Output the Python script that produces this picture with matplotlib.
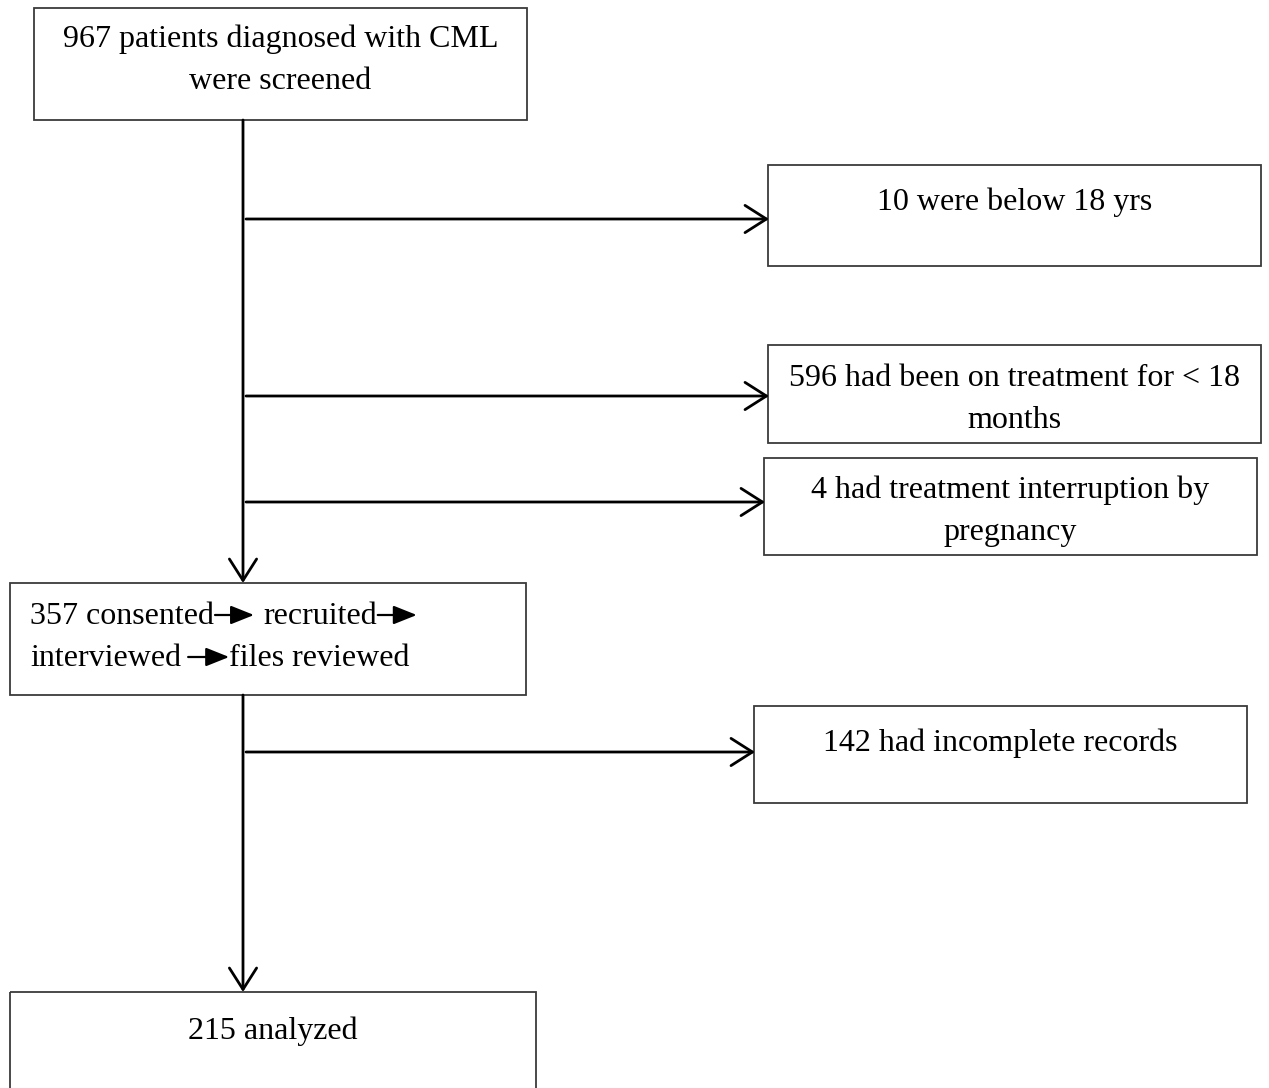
import matplotlib
matplotlib.use("Agg")
import matplotlib.pyplot as plt
from matplotlib.patches import Rectangle

# ---- content ----
main_labels = [
    "967 patients diagnosed with CML\nwere screened",
    None,  # composite box (consented -> recruited -> interviewed -> files reviewed)
    "215 analyzed",
]
step_words = ["357 consented", "recruited", "interviewed", "files reviewed"]
exclusion_labels = [
    "10 were below 18 yrs",
    "596 had been on treatment for < 18\nmonths",
    "4 had treatment interruption by\npregnancy",
    "142 had incomplete records",
]

# ---- layout (pixel coordinates, y downward) ----
W, H = 1269, 1088
FS = 23
FONT = "Liberation Serif"
BOX_EC = "#3a3a3a"
LINE_SPACING = 42

main_boxes = [(34, 8, 527, 120), (10, 583, 526, 695), (10, 992, 536, 1100)]
main_first_baseline = [47, None, 1039]
excl_boxes = [(768, 165, 1261, 266), (768, 345, 1261, 443),
              (764, 458, 1257, 555), (754, 706, 1247, 803)]
excl_first_baseline = [210, 386, 498, 751]
excl_arrow_y = [219, 396, 502, 752]
spine_x = 243

fig = plt.figure(figsize=(W / 100, H / 100), dpi=100)
ax = fig.add_axes([0, 0, 1, 1])
ax.set_xlim(0, W)
ax.set_ylim(H, 0)
ax.axis("off")
renderer = fig.canvas.get_renderer()


def box(x0, y0, x1, y1):
    ax.add_patch(Rectangle((x0, y0), x1 - x0, y1 - y0, fill=False,
                           ec=BOX_EC, lw=1.3, zorder=2))


def centered_text(x0, x1, baseline, label):
    for i, line in enumerate(label.split("\n")):
        ax.text((x0 + x1) / 2, baseline + i * LINE_SPACING, line,
                ha="center", va="baseline", fontsize=FS, family=FONT,
                color="black")


def left_text(x, y, s):
    t = ax.text(x, y, s, ha="left", va="baseline", fontsize=FS,
                family=FONT, color="black")
    bb = t.get_window_extent(renderer=renderer)
    return bb.x1  # pixel x == data x (axes fill the figure)


open_arrow = dict(arrowstyle="->,head_length=0.55,head_width=0.35",
                  lw=2.0, color="black", shrinkA=0, shrinkB=0,
                  mutation_scale=28)
filled_arrow = dict(arrowstyle="-|>,head_length=0.55,head_width=0.22",
                    lw=1.6, color="black", fc="black", shrinkA=0,
                    shrinkB=0, mutation_scale=26)


def inline_arrow(xa, xb, y):
    ax.annotate("", xy=(xb, y), xytext=(xa, y), arrowprops=filled_arrow)


# main boxes
for (b, lab, bl) in zip(main_boxes, main_labels, main_first_baseline):
    box(*b)
    if lab is not None:
        centered_text(b[0], b[2], bl, lab)

# composite box text with inline filled arrows
y1, y2 = 624, 666
e = left_text(30, y1, step_words[0])
inline_arrow(e + 1, e + 40, y1 - 9)
e = left_text(e + 49, y1, step_words[1])
inline_arrow(e + 1, e + 40, y1 - 9)
e = left_text(30, y2, step_words[2])
inline_arrow(e + 7, e + 48, y2 - 9)
left_text(e + 48, y2, step_words[3])

# spine
ax.annotate("", xy=(spine_x, 583), xytext=(spine_x, 120),
            arrowprops=open_arrow)
ax.annotate("", xy=(spine_x, 992), xytext=(spine_x, 695),
            arrowprops=open_arrow)

# exclusion boxes and arrows
for b, lab, bl, ay in zip(excl_boxes, exclusion_labels,
                          excl_first_baseline, excl_arrow_y):
    box(*b)
    centered_text(b[0], b[2], bl, lab)
    ax.annotate("", xy=(b[0] + 1, ay), xytext=(spine_x + 3, ay),
                arrowprops=open_arrow)

fig.savefig("out.png", dpi=100, facecolor="white")
